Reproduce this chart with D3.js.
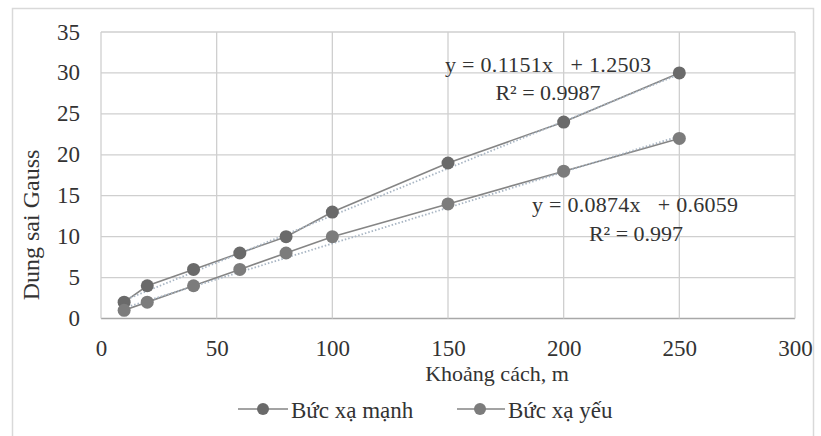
<!DOCTYPE html>
<html><head><meta charset="utf-8">
<script src="https://cdn.jsdelivr.net/npm/d3@7"></script>
<style>
html,body{margin:0;padding:0;background:#fff;}
svg{display:block;font-family:"Liberation Serif","Times New Roman",serif;}
</style></head>
<body><svg id="c" width="821" height="436"></svg>
<script>
const distances = [10, 20, 40, 60, 80, 100, 150, 200, 250];
const strongValues = [2, 4, 6, 8, 10, 13, 19, 24, 30];
const weakValues = [1, 2, 4, 6, 8, 10, 14, 18, 22];
const seriesNames = ["Bức xạ mạnh", "Bức xạ yếu"];
const trendSlopes = [0.1151, 0.0874];
const trendIntercepts = [1.2503, 0.6059];
const trendLabels = ["y = 0.1151x   + 1.2503", "y = 0.0874x   + 0.6059"];
const r2Labels = ["R² = 0.9987", "R² = 0.997"];
const xTicks = [0, 50, 100, 150, 200, 250, 300];
const yTicks = [0, 5, 10, 15, 20, 25, 30, 35];
const xTitle = "Khoảng cách, m";
const yTitle = "Dung sai Gauss";

const svg = d3.select("#c");
const L = 101, R = 795, T = 32, B = 318.5;
const x = d3.scaleLinear().domain([0, 300]).range([L, R]);
const y = d3.scaleLinear().domain([0, 35]).range([B, T]);

// outer border
svg.append("rect").attr("x", 12.5).attr("y", 8.5).attr("width", 801).attr("height", 440)
  .attr("fill", "none").attr("stroke", "#d9d9d9").attr("stroke-width", 1.5);

// gridlines
svg.append("g").selectAll("line").data(yTicks).join("line")
  .attr("x1", L).attr("x2", R).attr("y1", d => y(d)).attr("y2", d => y(d))
  .attr("stroke", d => d === 0 ? "#a8a8a8" : "#cfcfcf").attr("stroke-width", 1.3);
svg.append("g").selectAll("line").data(xTicks).join("line")
  .attr("y1", T).attr("y2", B).attr("x1", d => x(d)).attr("x2", d => x(d))
  .attr("stroke", "#cfcfcf").attr("stroke-width", 1.3);

// axes labels
const xAxis = d3.axisBottom(x).tickValues(xTicks).tickSize(0).tickPadding(0);
const gx = svg.append("g").attr("transform", `translate(0,${B})`).call(xAxis);
gx.select(".domain").remove();
gx.selectAll("text").attr("dy", null).attr("y", 37).attr("font-size", 23)
  .attr("fill", "#333").attr("font-family", "Liberation Serif");

const yAxis = d3.axisLeft(y).tickValues(yTicks).tickSize(0).tickPadding(0);
const gy = svg.append("g").attr("transform", `translate(80,0)`).call(yAxis);
gy.select(".domain").remove();
gy.selectAll("text").attr("dy", null).attr("y", 7).attr("x", 0).attr("font-size", 23)
  .attr("fill", "#333").attr("font-family", "Liberation Serif");

svg.append("text").attr("x", 497).attr("y", 381).attr("text-anchor", "middle")
  .attr("font-size", 22).attr("fill", "#333").text(xTitle);
svg.append("text").attr("transform", "translate(39,225) rotate(-90)").attr("text-anchor", "middle")
  .attr("font-size", 24).attr("fill", "#333").text(yTitle);

const series = [strongValues, weakValues];
const markerColors = ["#6a6a6a", "#7c7c7c"];
const line = d3.line().x((d, i) => x(distances[i])).y(d => y(d));

series.forEach((vals) => {
  svg.append("path").datum(vals).attr("d", line).attr("fill", "none")
    .attr("stroke", "#858585").attr("stroke-width", 1.6);
});
// trendlines
series.forEach((vals, s) => {
  const x0 = d3.min(distances), x1 = d3.max(distances);
  svg.append("line")
    .attr("x1", x(x0)).attr("y1", y(trendSlopes[s] * x0 + trendIntercepts[s]) + 1.5)
    .attr("x2", x(x1)).attr("y2", y(trendSlopes[s] * x1 + trendIntercepts[s]) + 1.5)
    .attr("stroke", "#a9b6c4").attr("stroke-width", 1.8).attr("stroke-dasharray", "1.5,2");
});
series.forEach((vals, s) => {
  svg.append("g").selectAll("circle").data(vals).join("circle")
    .attr("cx", (d, i) => x(distances[i])).attr("cy", d => y(d)).attr("r", 6.5)
    .attr("fill", markerColors[s]);
});

// equations
const eqPos = [[445, 72, 548, 100], [532, 212, 636, 241]];
eqPos.forEach((p, s) => {
  svg.append("text").attr("x", p[0]).attr("y", p[1]).attr("font-size", 22).attr("fill", "#333")
    .style("white-space", "pre").attr("textLength", 206).text(trendLabels[s]);
  svg.append("text").attr("x", p[2]).attr("y", p[3]).attr("text-anchor", "middle")
    .attr("font-size", 22).attr("fill", "#333").text(r2Labels[s]);
});

// legend
const leg = [[238, 263, 288, 291], [457, 480, 505, 508]];
leg.forEach((p, s) => {
  svg.append("line").attr("x1", p[0]).attr("x2", p[2]).attr("y1", 409).attr("y2", 409)
    .attr("stroke", "#858585").attr("stroke-width", 1.6);
  svg.append("circle").attr("cx", p[1]).attr("cy", 409).attr("r", 6).attr("fill", markerColors[s]);
  svg.append("text").attr("x", p[3]).attr("y", 418).attr("font-size", 23).attr("fill", "#333")
    .text(seriesNames[s]);
});
</script></body></html>
